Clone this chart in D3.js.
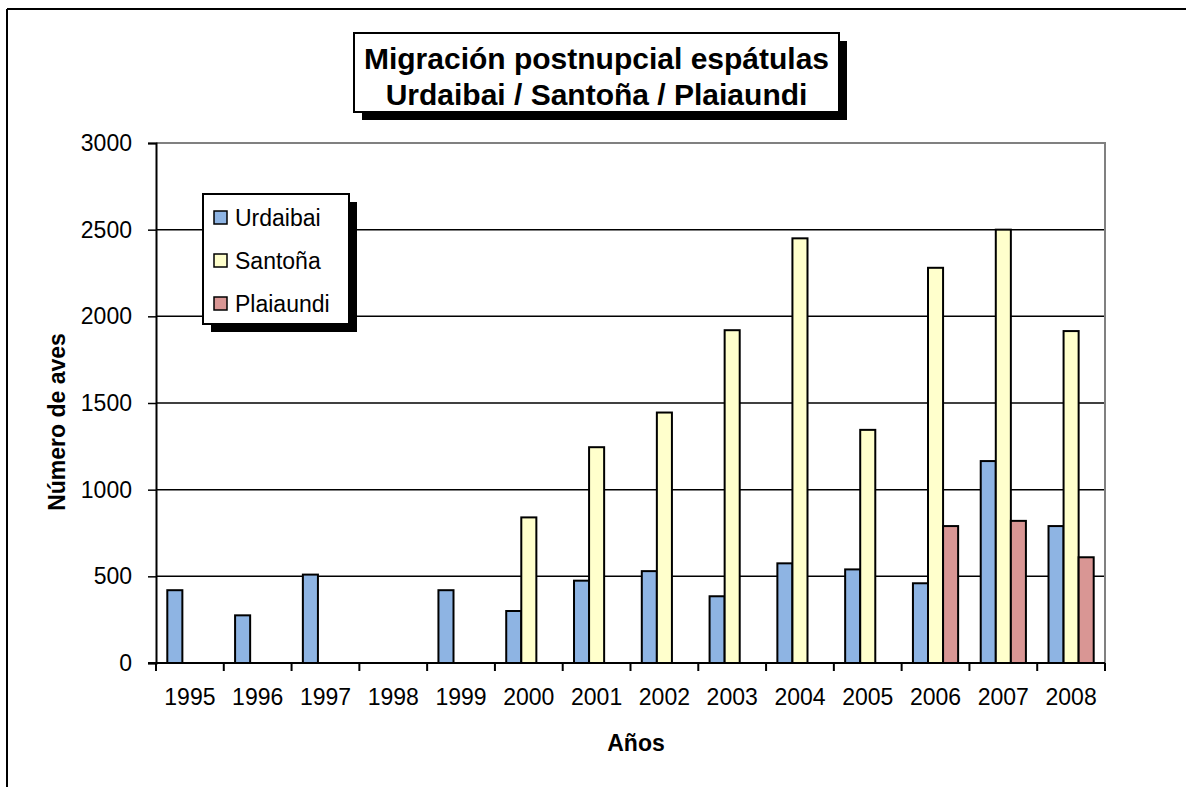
<!DOCTYPE html>
<html lang="es">
	<head>
		<meta charset="utf-8">
		<title>Migración postnupcial espátulas</title>
		<script type="text/javascript" src="https://cdn.jsdelivr.net/npm/d3@7"></script>
		<style type="text/css">
			body { margin: 0; background: #fff; }
			text { font-family: "Liberation Sans", Arial, sans-serif; fill: #000; }
		</style>
	</head>
	<body>
	<script>

		// data
		var years = ["1995","1996","1997","1998","1999","2000","2001","2002","2003","2004","2005","2006","2007","2008"];
		var seriesNames = ["Urdaibai", "Santoña", "Plaiaundi"];
		var urdaibai  = [420, 275, 510, null, 420, 300, 475, 530, 385, 575, 540, 460, 1165, 790];
		var santona   = [null, null, null, null, null, 840, 1245, 1445, 1920, 2450, 1345, 2280, 2500, 1915];
		var plaiaundi = [null, null, null, null, null, null, null, null, null, null, null, 790, 820, 610];
		var yTicks = [0, 500, 1000, 1500, 2000, 2500, 3000];
		var colors = ["#8EB4E3", "#FFFFCC", "#D99694"];

		var w = 1186;
		var h = 787;
		// plot area edges (note: "top" is taken by window.top)
		var pLeft = 156, pRight = 1105, pTop = 143, pBottom = 663;

		var svg = d3.select("body").append("svg").attr("width", w).attr("height", h);
		svg.append("rect").attr("width", w).attr("height", h).attr("fill", "#fff");

		// outer chart border (cropped at right and bottom)
		svg.append("line").attr("x1", 7).attr("x2", w).attr("y1", 9).attr("y2", 9)
			.attr("stroke", "#000").attr("stroke-width", 2);
		svg.append("line").attr("x1", 7).attr("x2", 7).attr("y1", 9).attr("y2", h)
			.attr("stroke", "#000").attr("stroke-width", 2);

		var x = d3.scaleBand().domain(years).range([pLeft, pRight]).paddingInner(0).paddingOuter(0);
		var xs = d3.scaleBand().domain(seriesNames).range([0, x.bandwidth()]).paddingInner(0).paddingOuter(0.75);
		var y = d3.scaleLinear().domain([0, 3000]).range([pBottom, pTop]);

		// gridlines
		svg.append("g").selectAll("line").data(yTicks).enter().append("line")
			.attr("x1", pLeft).attr("x2", pRight)
			.attr("y1", function(d){ return y(d); }).attr("y2", function(d){ return y(d); })
			.attr("stroke", "#000").attr("stroke-width", 1.5);

		// plot area border top/right (grey)
		svg.append("path").attr("d", "M" + pLeft + "," + pTop + "H" + pRight + "V" + pBottom)
			.attr("fill", "none").attr("stroke", "#808080").attr("stroke-width", 2);

		// bars
		var table = years.map(function(yr, i){
			return [urdaibai[i], santona[i], plaiaundi[i]].map(function(v, j){
				return {year: yr, name: seriesNames[j], value: v, color: colors[j]};
			});
		});
		var groups = svg.append("g").selectAll("g").data(table).enter().append("g")
			.attr("transform", function(d){ return "translate(" + x(d[0].year) + ",0)"; });
		groups.selectAll("rect").data(function(d){ return d.filter(function(e){ return e.value != null; }); })
			.enter().append("rect")
			.attr("x", function(d){ return xs(d.name); })
			.attr("width", xs.bandwidth())
			.attr("y", function(d){ return y(d.value); })
			.attr("height", function(d){ return y(0) - y(d.value); })
			.attr("fill", function(d){ return d.color; })
			.attr("stroke", "#000").attr("stroke-width", 2);

		// y axis
		var yAxis = svg.append("g").attr("transform", "translate(" + pLeft + ",0)")
			.call(d3.axisLeft(y).tickValues(yTicks).tickSize(8).tickPadding(16).tickFormat(d3.format("d")));
		yAxis.select(".domain").attr("stroke", "#000").attr("stroke-width", 2);
		yAxis.selectAll(".tick line").attr("stroke", "#000").attr("stroke-width", 1.5);
		yAxis.selectAll("text").style("font-size", "23px").style("font-family", "'Liberation Sans', Arial, sans-serif").attr("fill", "#000");

		// x axis
		var xAxis = svg.append("g").attr("transform", "translate(0," + pBottom + ")")
			.call(d3.axisBottom(x).tickSize(0).tickPadding(26));
		xAxis.select(".domain").remove();
		xAxis.selectAll("text").style("font-size", "23px").style("font-family", "'Liberation Sans', Arial, sans-serif").attr("fill", "#000");
		svg.append("line").attr("x1", pLeft - 8).attr("x2", pRight).attr("y1", pBottom).attr("y2", pBottom)
			.attr("stroke", "#000").attr("stroke-width", 2);
		var bounds = years.map(function(d){ return x(d); }).concat([pRight]);
		svg.append("g").selectAll("line").data(bounds).enter().append("line")
			.attr("x1", function(d){ return d; }).attr("x2", function(d){ return d; })
			.attr("y1", pBottom).attr("y2", pBottom + 8)
			.attr("stroke", "#000").attr("stroke-width", 2);

		// axis titles
		svg.append("text").attr("x", 636).attr("y", 751).attr("text-anchor", "middle")
			.style("font-size", "23px").style("font-weight", "bold").text("Años");
		svg.append("text").attr("transform", "translate(65,422) rotate(-90)").attr("text-anchor", "middle")
			.style("font-size", "23px").style("font-weight", "bold").text("Número de aves");

		// title box
		svg.append("rect").attr("x", 362).attr("y", 41).attr("width", 485).attr("height", 79).attr("fill", "#000");
		svg.append("rect").attr("x", 354).attr("y", 33).attr("width", 485).attr("height", 79)
			.attr("fill", "#fff").attr("stroke", "#000").attr("stroke-width", 2);
		svg.append("text").attr("x", 596.5).attr("y", 69).attr("text-anchor", "middle")
			.style("font-size", "30px").style("font-weight", "bold").text("Migración postnupcial espátulas");
		svg.append("text").attr("x", 596.5).attr("y", 105).attr("text-anchor", "middle")
			.style("font-size", "30px").style("font-weight", "bold").text("Urdaibai / Santoña / Plaiaundi");

		// legend
		svg.append("rect").attr("x", 211).attr("y", 202).attr("width", 146).attr("height", 130).attr("fill", "#000");
		svg.append("rect").attr("x", 203).attr("y", 194).attr("width", 146).attr("height", 130)
			.attr("fill", "#fff").attr("stroke", "#000").attr("stroke-width", 2);
		var items = svg.append("g").selectAll("g").data(seriesNames).enter().append("g")
			.attr("transform", function(d, i){ return "translate(214," + (217 + i * 43) + ")"; });
		items.append("rect").attr("x", 0).attr("y", -6).attr("width", 13).attr("height", 13)
			.attr("fill", function(d, i){ return colors[i]; }).attr("stroke", "#000").attr("stroke-width", 1.5);
		items.append("text").attr("x", 21).attr("y", 8.5)
			.style("font-size", "23px").text(function(d){ return d; });

	</script>
	</body>
</html>
